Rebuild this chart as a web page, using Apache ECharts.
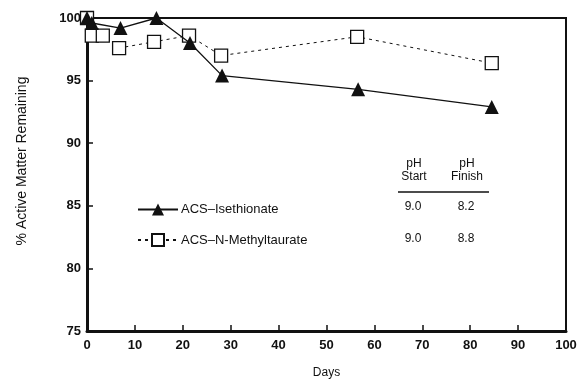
<!DOCTYPE html>
<html>
<head>
<meta charset="utf-8">
<script src="https://cdn.jsdelivr.net/npm/echarts@6/dist/echarts.min.js"></script>
<style>
  html, body { margin: 0; padding: 0; background: #fff; }
  #chart { width: 579px; height: 380px; }
</style>
</head>
<body>
<div id="chart"></div>
<script>
// days and % active matter
const isethDays = [0, 1, 7, 14.5, 21.5, 28.2, 56.6, 84.5]
const isethValues = [100, 99.6, 99.2, 100, 98.0, 95.4, 94.3, 92.9]
const taurateDays = [0, 1, 3.3, 6.7, 14, 21.3, 28, 56.4, 84.5]
const taurateValues = [100, 98.6, 98.6, 97.6, 98.1, 98.6, 97.0, 98.5, 96.4]

const seriesNames = ['ACS–Isethionate', 'ACS–N-Methyltaurate']
const phStart = ['9.0', '9.0']
const phFinish = ['8.2', '8.8']

const font = '"Liberation Sans", Arial, sans-serif'
const pairs = (xs, ys) => xs.map((x, i) => [x, ys[i]])

function label(text, x, y) {
  return {
    type: 'text', x, y,
    style: { text, fontFamily: font, fontSize: 12, fill: '#111', align: 'center', verticalAlign: 'middle', lineHeight: 13 }
  }
}

const chart = echarts.init(document.getElementById('chart'), null, { renderer: 'canvas' })

chart.setOption({
  backgroundColor: '#fff',
  animation: false,
  grid: {
    left: 87, right: 13, top: 18, bottom: 49,
    outerBoundsMode: 'none', containLabel: false,
    show: true, borderColor: '#111', borderWidth: 2
  },
  legend: {
    orient: 'vertical',
    left: 132, top: 198,
    itemWidth: 40, itemHeight: 15, itemGap: 17,
    textStyle: { fontFamily: font, fontSize: 13, color: '#111', padding: [0, 0, 0, -2] },
    data: seriesNames
  },
  xAxis: {
    type: 'value', min: 0, max: 100, interval: 10,
    name: 'Days', nameLocation: 'middle', nameGap: 36,
    nameTextStyle: { fontFamily: font, fontSize: 12, color: '#111' },
    axisLine: { lineStyle: { color: '#111', width: 3 } },
    axisTick: { inside: true, length: 6, lineStyle: { color: '#111', width: 1.5 } },
    axisLabel: { fontFamily: font, fontSize: 13, fontWeight: 'bold', color: '#111', margin: 8 },
    splitLine: { show: false }
  },
  yAxis: {
    type: 'value', min: 75, max: 100, interval: 5,
    axisLine: { lineStyle: { color: '#111', width: 3 } },
    axisTick: { inside: true, length: 6, lineStyle: { color: '#111', width: 1.5 } },
    axisLabel: { fontFamily: font, fontSize: 13, fontWeight: 'bold', color: '#111', margin: 6 },
    splitLine: { show: false }
  },
  graphic: [
    {
      type: 'text', x: 22, y: 161, rotation: Math.PI / 2,
      style: { text: '% Active Matter Remaining', fontFamily: font, fontSize: 14, fill: '#111', align: 'center', verticalAlign: 'middle' }
    },
    label('pH\nStart', 414, 170),
    label('pH\nFinish', 467, 170),
    { type: 'line', shape: { x1: 398, y1: 192, x2: 489, y2: 192 }, style: { stroke: '#111', lineWidth: 1.5 } },
    label(phStart[0], 413, 207),
    label(phFinish[0], 466, 207),
    label(phStart[1], 413, 239),
    label(phFinish[1], 466, 239)
  ],
  series: [
    {
      name: seriesNames[1],
      type: 'line',
      data: pairs(taurateDays, taurateValues),
      symbol: 'rect', symbolSize: 13,
      lineStyle: { color: '#111', width: 1, type: [3, 4] },
      itemStyle: { color: '#fff', borderColor: '#111', borderWidth: 1.3 },
      z: 2
    },
    {
      name: seriesNames[0],
      type: 'line',
      data: pairs(isethDays, isethValues),
      symbol: 'triangle', symbolSize: 14,
      lineStyle: { color: '#111', width: 1.3 },
      itemStyle: { color: '#111' },
      z: 3
    }
  ]
})
</script>
</body>
</html>
